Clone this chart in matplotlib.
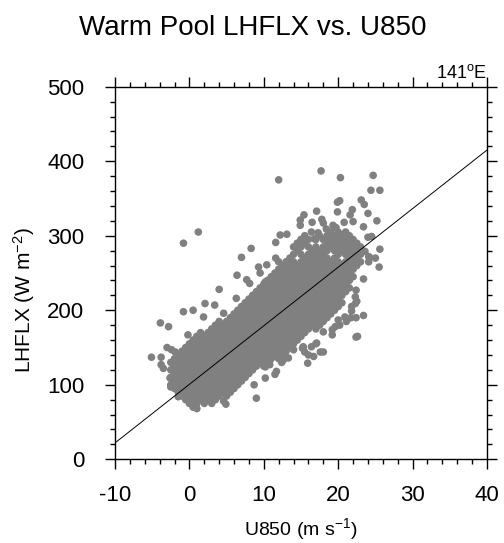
import matplotlib
matplotlib.use("Agg")
import matplotlib.pyplot as plt
from matplotlib.ticker import MultipleLocator

plt.rcParams['font.family'] = ['Liberation Sans', 'DejaVu Sans']
plt.rcParams['axes.unicode_minus'] = False
plt.rcParams['mathtext.fontset'] = 'custom'
plt.rcParams['mathtext.rm'] = 'Liberation Sans'

# ---------------- data ----------------
title = "Warm Pool LHFLX vs. U850"
region_label = "141$\\mathregular{^o}$E"
x_ticks = [-10, 0, 10, 20, 30, 40]
y_ticks = [0, 100, 200, 300, 400, 500]

# regression line: LHFLX = intercept + slope * U850
reg_intercept = 100.6
reg_slope = 7.86
reg_x = [-10, 40]

# dense core, column by column (U850 value, list of LHFLX values)
core_u850_cols = [-2.5, -2.0, -1.5, -1.0, -0.5, 0.0, 0.5, 1.0, 1.5, 2.0, 2.5,
                  3.0, 3.5, 4.0, 4.5, 5.0, 5.5, 6.0, 6.5, 7.0, 7.5, 8.0, 8.5,
                  9.0, 9.5, 10.0, 10.5, 11.0, 11.5, 12.0, 12.5, 13.0, 13.5,
                  14.0, 14.5, 15.0, 15.5, 16.0, 16.5, 17.0, 17.5, 18.0, 18.5,
                  19.0, 19.5, 20.0, 20.5, 21.0, 21.5, 22.0, 22.5, 23.0]
core_lhflx_cols = [
    [100, 110, 120, 130],
    [95, 105, 115, 125, 135],
    [90, 100, 110, 120, 130, 140],
    [85, 95, 105, 115, 125, 135, 145],
    [80, 90, 100, 110, 120, 130, 140, 150],
    [75, 85, 95, 105, 115, 125, 135, 145, 155],
    [70, 80, 90, 100, 110, 120, 130, 140, 150, 160],
    [75, 85, 95, 105, 115, 125, 135, 145, 155, 165],
    [80, 90, 100, 110, 120, 130, 140, 150, 160, 170],
    [75, 85, 95, 105, 115, 125, 135, 145, 155, 165],
    [80, 90, 100, 110, 120, 130, 140, 150, 160, 170],
    [75, 85, 95, 105, 115, 125, 135, 145, 155, 165, 175],
    [80, 90, 100, 110, 120, 130, 140, 150, 160, 170, 180],
    [85, 95, 105, 115, 125, 135, 145, 155, 165, 175, 185],
    [90, 100, 110, 120, 130, 140, 150, 160, 170, 180],
    [85, 95, 105, 115, 125, 135, 145, 155, 165, 175, 185],
    [90, 100, 110, 120, 130, 140, 150, 160, 170, 180, 190],
    [95, 105, 115, 125, 135, 145, 155, 165, 175, 185, 195],
    [100, 110, 120, 130, 140, 150, 160, 170, 180, 190, 200],
    [105, 115, 125, 135, 145, 155, 165, 175, 185, 195, 205],
    [110, 120, 130, 140, 150, 160, 170, 180, 190, 200, 210],
    [115, 125, 135, 145, 155, 165, 175, 185, 195, 205, 215],
    [120, 130, 140, 150, 160, 170, 180, 190, 200, 210, 220],
    [125, 135, 145, 155, 165, 175, 185, 195, 205, 215, 225],
    [130, 140, 150, 160, 170, 180, 190, 200, 210, 220, 230],
    [125, 135, 145, 155, 165, 175, 185, 195, 205, 215, 225, 235],
    [130, 140, 150, 160, 170, 180, 190, 200, 210, 220, 230, 240],
    [135, 145, 155, 165, 175, 185, 195, 205, 215, 225, 235, 245],
    [140, 150, 160, 170, 180, 190, 200, 210, 220, 230, 240, 250],
    [135, 145, 155, 165, 175, 185, 195, 205, 215, 225, 235, 245, 255],
    [140, 150, 160, 170, 180, 190, 200, 210, 220, 230, 240, 250, 260],
    [145, 155, 165, 175, 185, 195, 205, 215, 225, 235, 245, 255, 265],
    [150, 160, 170, 180, 190, 200, 210, 220, 230, 240, 250, 260, 270],
    [155, 165, 175, 185, 195, 205, 215, 225, 235, 245, 255, 265, 275, 285],
    [160, 170, 180, 190, 200, 210, 220, 230, 240, 250, 260, 280, 290],
    [165, 175, 185, 195, 205, 215, 225, 235, 245, 255, 265, 275, 285, 295],
    [170, 180, 190, 200, 210, 220, 230, 240, 250, 260, 270, 290, 300],
    [175, 185, 195, 205, 215, 225, 235, 245, 255, 265, 275, 285, 295],
    [180, 190, 200, 210, 220, 230, 240, 250, 260, 270, 280],
    [175, 185, 195, 205, 215, 225, 235, 245, 255, 265, 275, 285, 295],
    [180, 190, 200, 210, 220, 230, 240, 250, 260, 270, 280, 300],
    [185, 195, 205, 215, 225, 235, 245, 255, 265, 275, 285, 295],
    [190, 200, 210, 220, 230, 240, 250, 260, 270, 280, 290, 300],
    [195, 205, 215, 225, 235, 245, 255, 265, 285, 295, 305],
    [200, 210, 220, 230, 240, 250, 260, 270, 280, 290, 300],
    [205, 215, 225, 235, 245, 255, 265, 275, 285, 295, 305],
    [210, 220, 230, 240, 250, 260, 280, 290, 300],
    [225, 235, 245, 255, 265, 275, 285, 295, 305],
    [230, 240, 250, 260, 270, 280, 290, 300],
    [245, 255, 265, 275, 285, 295],
    [260, 270, 280, 290],
    [265, 275, 285],
]

# scattered points around the core
outer_u850 = [12.0, 17.7, 20.3, 24.7, 24.4, 25.6,
              1.2, -0.8, 8.3, 7.0,
              17.1, 19.9, 20.2, 19.9, 23.1, 23.5,
              15.4, 14.9, 14.9, 25.2, 24.0, 23.4, 21.6,
              12.2, 13.1, 11.6, 25.6, 24.5, 24.2, 25.5, 23.6,
              16.4, 18.0, 19.3, 22.0, 16.5, 17.8, 20.8, 21.9,
              12.0, 13.3, 11.6, 9.3, 10.4, 9.5, 10.2, 12.2, 13.5,
              7.7, 8.1, 6.3, 6.4, 4.0,
              -5.1, -3.9, -2.8, -0.8, 0.5, 2.1, 3.4, 1.9, 4.6,
              -0.2, 0.8, -1.9, -0.6, -1.3,
              -3.8, -3.8, -3.5, -3.0, -2.4, -2.6, -2.5, -1.5,
              1.0, 4.9, 4.6, 9.0, 8.7, 10.2, 11.5, 15.9, 16.0, 18.0, 17.0, 15.2, 14.0,
              22.4, 23.4, 22.4, 21.8, 21.7, 21.1, 19.2, 19.2,
              23.4, 22.4, 22.3, 22.3, 22.5, 21.8, 20.9, 20.0, 19.6, 22.6, 20.2, 18.0,
              17.1, 16.4, 17.6, 16.7, 15.5, 12.6,
              7.0, 8.1, 10.2, 11.7, 10.8, 12.6, 13.8,
              13.3, 12.4, 10.8, 11.3, 15.3,
              24.1, 25.0, 24.0, 24.1,
              17.3, 18.4, 16.8, 19.7]
outer_lhflx = [375, 387, 378, 381, 361, 361,
               305, 290, 283, 271,
               333, 345, 347, 332, 348, 342,
               328, 321, 314, 320, 330, 312, 328,
               301, 302, 291, 282, 299, 271, 258, 279,
               305, 317, 314, 319, 318, 322, 318, 335,
               265, 265, 270, 258, 261, 250, 238, 247, 258,
               241, 236, 216, 247, 228,
               137, 183, 178, 198, 200, 209, 207, 191, 196,
               167, 156, 144, 147, 133,
               137, 127, 122, 150, 147, 109, 97, 84,
               68, 74, 78, 82, 100, 109, 114, 129, 140, 144, 155, 149, 147,
               164, 193, 190, 199, 190, 185, 174, 167,
               242, 227, 218, 209, 212, 205, 191, 187, 178, 165, 180, 171,
               156, 151, 144, 138, 144, 142,
               106, 122, 124, 118, 133, 133, 160,
               136, 130, 127, 138, 151,
               272, 270, 298, 265,
               304, 309, 296, 311]

# ---------------- figure ----------------
W, H = 504, 543
fig = plt.figure(figsize=(W / 100, H / 100), dpi=100)
ax = fig.add_axes([115 / W, (H - 459.3) / H, 372 / W, 372.6 / H])

pts_x = list(outer_u850)
pts_y = list(outer_lhflx)
for xc, ys in zip(core_u850_cols, core_lhflx_cols):
    pts_x += [xc] * len(ys)
    pts_y += ys

ax.scatter(pts_x, pts_y, s=30, c='#808080', edgecolors='none', zorder=2)

reg_y = [reg_intercept + reg_slope * v for v in reg_x]
ax.plot(reg_x, reg_y, color='black', lw=0.7, zorder=3)

ax.set_xlim(-10, 40)
ax.set_ylim(0, 500)
ax.set_xticks(x_ticks)
ax.set_yticks(y_ticks)
ax.set_xticklabels([str(v) for v in x_ticks])
ax.set_yticklabels([str(v) for v in y_ticks])
ax.xaxis.set_minor_locator(MultipleLocator(2))
ax.yaxis.set_minor_locator(MultipleLocator(20))
ax.tick_params(which='both', direction='out', top=True, right=True,
               width=1.0, color='black')
ax.tick_params(which='major', length=7.2, labelsize=16)
ax.tick_params(which='minor', length=3.6)
ax.tick_params(axis='x', which='major', pad=11)
ax.tick_params(axis='y', which='major', pad=15)
for sp in ax.spines.values():
    sp.set_linewidth(1.0)

fig.text(252.5 / W, 1 - 35 / H, title, ha='center', va='baseline', fontsize=20)
fig.text(301 / W, 1 - 535 / H, "U850 (m s$\\mathregular{^{-1}}$)",
         ha='center', va='baseline', fontsize=14)
fig.text(24 / W, 1 - 300 / H, "LHFLX (W m$\\mathregular{^{-2}}$)",
         ha='center', va='center', rotation=90, fontsize=15)
ax.text(1.0, 1.0 + 9 / 372.6, region_label, transform=ax.transAxes,
        ha='right', va='baseline', fontsize=13)

fig.savefig("out.png", dpi=100)
